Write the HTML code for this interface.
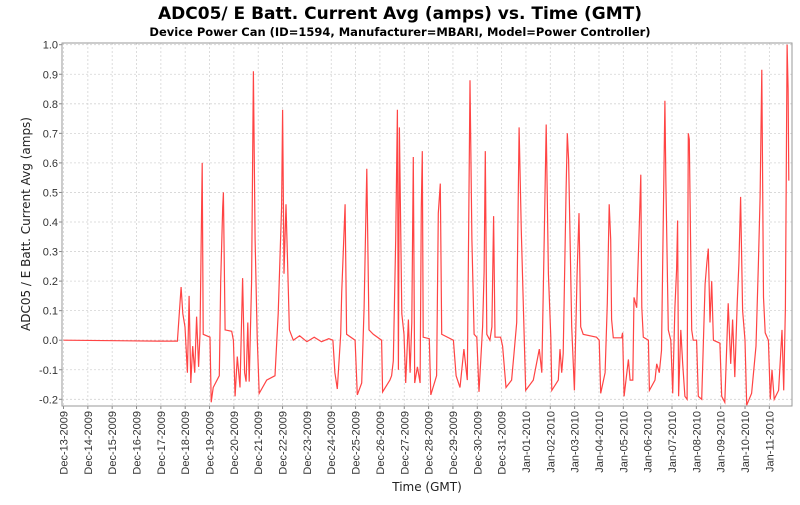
<!DOCTYPE html>
<html><head><meta charset="utf-8"><style>
body{margin:0;background:#fff;font-family:"Liberation Sans",sans-serif}
svg text{font-family:"Liberation Sans",sans-serif}
svg text.dj{font-family:"DejaVu Sans",sans-serif}
</style></head><body>
<svg id="c" width="800" height="500">
<text class="dj" x="400" y="19" text-anchor="middle" font-size="17" font-weight="bold">ADC05/ E Batt. Current Avg (amps) vs. Time (GMT)</text>
<text class="dj" x="400" y="36" text-anchor="middle" font-size="11.5" font-weight="bold">Device Power Can (ID=1594, Manufacturer=MBARI, Model=Power Controller)</text>
<text class="dj" transform="translate(30,224) rotate(-90)" text-anchor="middle" font-size="12" fill="#222">ADC05 / E Batt.  Current Avg (amps)</text>
<text class="dj" x="427" y="491" text-anchor="middle" font-size="12" fill="#222">Time (GMT)</text>
<g id="grid"></g><g id="axes"></g><g id="series"></g>
</svg>
<script>
const dayLabels=["Dec-13-2009","Dec-14-2009","Dec-15-2009","Dec-16-2009","Dec-17-2009","Dec-18-2009","Dec-19-2009","Dec-20-2009","Dec-21-2009","Dec-22-2009","Dec-23-2009","Dec-24-2009","Dec-25-2009","Dec-26-2009","Dec-27-2009","Dec-28-2009","Dec-29-2009","Dec-30-2009","Dec-31-2009","Jan-01-2010","Jan-02-2010","Jan-03-2010","Jan-04-2010","Jan-05-2010","Jan-06-2010","Jan-07-2010","Jan-08-2010","Jan-09-2010","Jan-10-2010","Jan-11-2010"];
const yTicks=[-0.2,-0.1,0.0,0.1,0.2,0.3,0.4,0.5,0.6,0.7,0.8,0.9,1.0];
const times=[0,3.9,4.68,4.83,4.9,4.99,5.09,5.16,5.23,5.31,5.39,5.47,5.55,5.61,5.7,5.74,6.02,6.07,6.15,6.4,6.46,6.54,6.57,6.64,6.91,6.98,7.05,7.14,7.25,7.36,7.44,7.5,7.57,7.63,7.73,7.8,7.87,7.96,8.04,8.35,8.69,8.82,8.96,9.0,9.06,9.14,9.28,9.44,9.7,10.0,10.3,10.6,10.9,11.07,11.15,11.25,11.39,11.43,11.57,11.63,11.98,12.07,12.25,12.35,12.46,12.55,12.73,13.07,13.11,13.41,13.48,13.55,13.65,13.72,13.76,13.8,13.9,13.99,14.06,14.17,14.24,14.31,14.37,14.43,14.54,14.65,14.7,14.74,14.78,15.03,15.09,15.33,15.4,15.48,15.54,16.02,16.13,16.29,16.45,16.59,16.7,16.78,16.87,16.98,17.07,17.22,17.28,17.33,17.39,17.52,17.6,17.67,17.73,17.96,18.04,18.18,18.41,18.51,18.62,18.72,18.81,18.92,18.99,19.3,19.55,19.65,19.75,19.83,19.92,20.02,20.06,20.33,20.4,20.47,20.53,20.65,20.7,20.75,20.88,20.99,21.1,21.18,21.25,21.35,21.9,22.01,22.07,22.25,22.34,22.42,22.48,22.52,22.59,22.93,22.97,23.03,23.21,23.28,23.39,23.44,23.55,23.66,23.72,23.76,23.82,24.03,24.07,24.3,24.37,24.48,24.57,24.71,24.75,24.85,24.95,25.03,25.12,25.19,25.23,25.27,25.36,25.44,25.53,25.62,25.67,25.71,25.81,25.87,26.01,26.08,26.22,26.36,26.43,26.49,26.56,26.63,26.7,26.97,27.04,27.17,27.31,27.41,27.49,27.58,27.68,27.75,27.82,27.9,28.0,28.07,28.27,28.45,28.55,28.62,28.69,28.76,28.83,28.96,29.04,29.11,29.2,29.38,29.52,29.59,29.66,29.73,29.77,29.8];
const values=[0,-0.003,-0.003,0.18,0.09,0.045,-0.11,0.15,-0.145,-0.02,-0.11,0.08,-0.09,0.02,0.6,0.02,0.01,-0.21,-0.16,-0.12,0.2,0.45,0.5,0.035,0.03,0,-0.19,-0.055,-0.16,0.21,-0.11,-0.14,0.06,-0.14,0.2,0.91,0.34,0.01,-0.18,-0.135,-0.12,0.09,0.45,0.78,0.225,0.46,0.035,0,0.015,-0.005,0.01,-0.005,0.005,0,-0.11,-0.165,0.02,0.16,0.46,0.02,0,-0.185,-0.145,0.11,0.58,0.035,0.02,0,-0.175,-0.135,-0.12,-0.07,0.34,0.78,-0.1,0.72,0.09,0.02,-0.145,0.07,-0.11,0.06,0.62,-0.145,-0.09,-0.145,0.45,0.64,0.01,0.005,-0.185,-0.12,0.43,0.53,0.02,0,-0.12,-0.16,-0.03,-0.135,0.88,0.34,0.02,0.01,-0.175,0.045,0.23,0.64,0.02,0,0.045,0.42,0.01,0.01,-0.02,-0.16,-0.135,-0.045,0.06,0.72,0.37,0.035,-0.17,-0.135,-0.03,-0.11,0.34,0.73,0.225,0.01,-0.17,-0.135,-0.03,-0.11,-0.045,0.51,0.7,0.61,0.045,-0.17,0.225,0.43,0.045,0.02,0.01,0,-0.18,-0.11,0.125,0.46,0.34,0.07,0.008,0.008,0.025,-0.19,-0.065,-0.135,-0.135,0.145,0.11,0.4,0.56,0.11,0.01,0,-0.17,-0.135,-0.08,-0.11,-0.035,0.81,0.53,0.035,0,-0.18,0.11,0.24,0.405,-0.19,0.035,-0.08,-0.19,-0.2,0.7,0.68,0.035,0,0,-0.19,-0.2,0.19,0.26,0.31,0.06,0.2,0,-0.01,-0.19,-0.21,0.125,-0.08,0.07,-0.125,0.125,0.26,0.485,0.1,0,-0.22,-0.18,-0.02,0.26,0.485,0.915,0.145,0.025,0,-0.2,-0.1,-0.2,-0.17,0.035,-0.17,0.11,1.0,0.85,0.54];
const NS="http://www.w3.org/2000/svg";
const L=62,R=792,T=43,B=406;
const X=d=>63.5+d*24.34;
const Y=v=>340.2-v*295.5;
const grid=document.getElementById('grid'),axes=document.getElementById('axes'),series=document.getElementById('series');
function mk(tag,attrs,parent){const e=document.createElementNS(NS,tag);for(const k in attrs)e.setAttribute(k,attrs[k]);parent.appendChild(e);return e;}
const bg=mk('rect',{x:L,y:T,width:R-L,height:B-T,fill:'#fff',stroke:'none'},grid);


yTicks.forEach(v=>{
  const y=Y(v);
  const g=mk('line',{x1:L,x2:R,y1:y,y2:y,stroke:'#d4d4d4','stroke-width':0.8,'stroke-dasharray':'2,2'},grid);
  
  
  mk('line',{x1:L-3,x2:L,y1:y,y2:y,stroke:'#888'},axes);
  const t=mk('text',{x:L-4,y:y+4,'text-anchor':'end','font-size':11,fill:'#333'},axes);
  t.textContent=v.toFixed(1);
  
  
});
dayLabels.forEach((lab,i)=>{
  const x=X(i);
  const g=mk('line',{x1:x,x2:x,y1:T,y2:B,stroke:'#d4d4d4','stroke-width':0.8,'stroke-dasharray':'2,2'},grid);
  
  
  mk('line',{x1:x,x2:x,y1:B,y2:B+3,stroke:'#888'},axes);
  const t=mk('text',{transform:`translate(${x+4},${B+5}) rotate(-90)`,'text-anchor':'end','font-size':11,fill:'#333'},axes);
  t.textContent=lab;
  
  
});
const fr=mk('rect',{x:L,y:T,width:R-L,height:B-T,fill:'none',stroke:'#999'},axes);


const p=mk('polyline',{points:times.map((t,i)=>X(t).toFixed(1)+','+Y(values[i]).toFixed(1)).join(' '),fill:'none',stroke:'#f44','stroke-width':1.2},series);


</script>
</body></html>
